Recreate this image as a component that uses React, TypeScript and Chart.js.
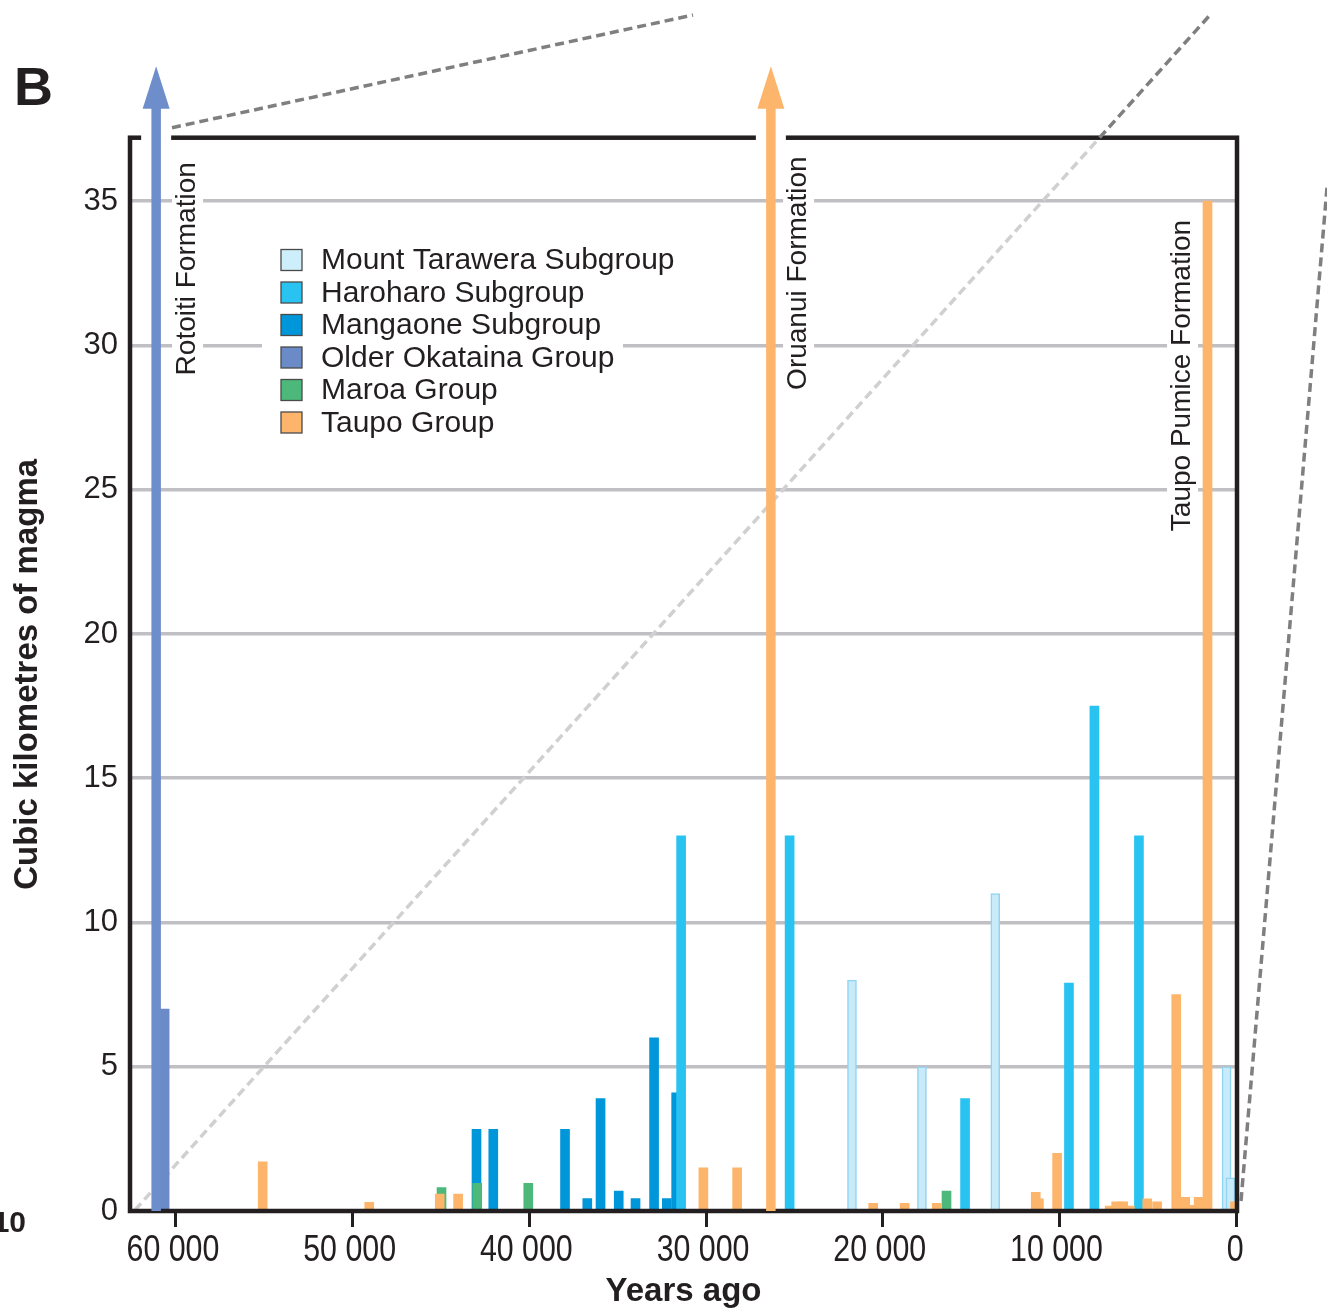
import React, { useEffect, useRef } from "react";
import { Chart, registerables } from "chart.js";

Chart.register(...registerables);

const FONT = "'Liberation Sans', Arial, Helvetica, sans-serif";
const INK = "#231f20";

// ---- axis ticks ----
const xTickValues = [60000, 50000, 40000, 30000, 20000, 10000, 0];
const yTickValues = [0, 5, 10, 15, 20, 25, 30, 35];

// ---- series (years ago, cubic km) ----
const taraweraYears = [21740, 17780, 13630, 540, 320];
const taraweraVolumes = [8.0, 5.0, 11.0, 5.0, 1.15];

const haroharoYears = [31410, 25270, 15340, 9460, 8020, 5500];
const haroharoVolumes = [13, 13, 3.9, 7.9, 17.5, 13];

const mangaoneYears = [42990, 42040, 37980, 36720, 35970, 34940, 33990, 32940, 32220, 31690];
const mangaoneVolumes = [2.83, 2.83, 2.83, 0.43, 3.9, 0.69, 0.43, 6.0, 0.43, 4.1];

const olderOkatainaYears = [60640];
const olderOkatainaVolumes = [7.0];

const maroaYears = [44970, 42950, 40060, 16390];
const maroaVolumes = [0.81, 0.96, 0.96, 0.69];

const taupoYears = [
  55090, 49060, 45070, 44030, 30150, 28240, 20540, 18760, 16940, 11160, 11340, 10130,
  7155, 6787, 6391, 6024, 5030, 4470, 3390, 2545, 2880, 2120, 1620, 60,
];
const taupoVolumes = [
  1.7, 0.3, 0.59, 0.59, 1.5, 1.5, 0.27, 0.27, 0.27, 0.42, 0.65, 2.0,
  0.17, 0.32, 0.32, 0.17, 0.42, 0.32, 7.5, 0.2, 0.47, 0.47, 35, 0.32,
];

// ---- off-scale eruptions drawn as arrows ----
const arrowYears = [61120, 26330];
const arrowGroups = ["Older Okataina Group", "Taupo Group"];

// ---- vertical formation labels ----
const formationLabels = ["Rotoiti Formation", "Oruanui Formation", "Taupo Pumice Formation"];
const formationLabelYears = [59370, 24790, 3060];
const formationLabelTops = [36.35, 36.55, 34.35];

const legendOrder = [
  "Mount Tarawera Subgroup",
  "Haroharo Subgroup",
  "Mangaone Subgroup",
  "Older Okataina Group",
  "Maroa Group",
  "Taupo Group",
];

const styles: Record<string, { fill: string; border: string; bw: number; order: number }> = {
  "Mount Tarawera Subgroup": { fill: "#c9eaf9", border: "#8fd4f2", bw: 1.5, order: 3 },
  "Haroharo Subgroup": { fill: "#29c3f2", border: "#29c3f2", bw: 0, order: 2 },
  "Mangaone Subgroup": { fill: "#0096da", border: "#0096da", bw: 0, order: 4 },
  "Older Okataina Group": { fill: "#6a8bc8", border: "#6a8bc8", bw: 0, order: 5 },
  "Maroa Group": { fill: "#4cb97b", border: "#4cb97b", bw: 0, order: 1 },
  "Taupo Group": { fill: "#fdb56b", border: "#fdb56b", bw: 0, order: 0 },
};

const seriesData: Record<string, [number[], number[]]> = {
  "Mount Tarawera Subgroup": [taraweraYears, taraweraVolumes],
  "Haroharo Subgroup": [haroharoYears, haroharoVolumes],
  "Mangaone Subgroup": [mangaoneYears, mangaoneVolumes],
  "Older Okataina Group": [olderOkatainaYears, olderOkatainaVolumes],
  "Maroa Group": [maroaYears, maroaVolumes],
  "Taupo Group": [taupoYears, taupoVolumes],
};

function fmt(v: number) {
  return String(v).replace(/\B(?=(\d{3})+(?!\d))/g, " ");
}

function dashedLine(ctx: CanvasRenderingContext2D, x1: number, y1: number, x2: number, y2: number, color: string) {
  ctx.save();
  ctx.strokeStyle = color;
  ctx.lineWidth = 3.5;
  ctx.setLineDash([9, 5]);
  ctx.beginPath();
  ctx.moveTo(x1, y1);
  ctx.lineTo(x2, y2);
  ctx.stroke();
  ctx.restore();
}

const decorPlugin = {
  id: "decor",
  beforeDatasetsDraw(chart: any) {
    const { ctx, chartArea: ca, scales } = chart;
    const x = scales.x;
    const y = scales.y;
    // light dashed zoom line inside plot
    const bx1 = ca.left + 5, by1 = ca.bottom - 1, bx2 = ca.right - 27, by2 = 15;
    const t = (by1 - ca.top) / (by1 - by2);
    dashedLine(ctx, bx1, by1, bx1 + t * (bx2 - bx1), ca.top, "#d0d0d0");

    ctx.save();
    ctx.fillStyle = "#ffffff";
    // white boxes behind formation labels
    ctx.font = `28px ${FONT}`;
    formationLabels.forEach((lbl, i) => {
      const px = x.getPixelForValue(formationLabelYears[i]);
      const py = y.getPixelForValue(formationLabelTops[i]);
      const w = ctx.measureText(lbl).width;
      ctx.fillRect(px - 15, py - 6, 31, w + 12);
    });
    // white box behind legend
    ctx.fillRect(ca.left + 132, ca.top + 104, 361, 200);
    ctx.restore();
  },
  afterDatasetsDraw(chart: any) {
    const { ctx, chartArea: ca, scales } = chart;
    const x = scales.x;
    const y = scales.y;

    // frame
    ctx.save();
    ctx.strokeStyle = INK;
    ctx.lineWidth = 4.5;
    ctx.strokeRect(ca.left, ca.top, ca.right - ca.left, ca.bottom - ca.top);
    // gaps for the arrows
    ctx.fillStyle = "#ffffff";
    arrowYears.forEach((yr) => {
      const px = x.getPixelForValue(yr);
      ctx.fillRect(px - 15, ca.top - 3.5, 30, 7);
    });
    ctx.restore();

    // arrows
    arrowYears.forEach((yr, i) => {
      const px = x.getPixelForValue(yr);
      const base = ca.top - 30;
      const tip = ca.top - 71.5;
      ctx.save();
      ctx.fillStyle = arrowGroups[i] === "Older Okataina Group" ? "#6e8ecb" : styles[arrowGroups[i]].fill;
      ctx.fillRect(px - 4.75, base, 9.5, y.getPixelForValue(0) - base);
      ctx.beginPath();
      ctx.moveTo(px - 13.5, base + 1);
      ctx.lineTo(px + 13.5, base + 1);
      ctx.lineTo(px, tip);
      ctx.closePath();
      ctx.fill();
      ctx.restore();
    });

    // formation labels
    ctx.save();
    ctx.fillStyle = INK;
    ctx.font = `28px ${FONT}`;
    ctx.textAlign = "right";
    ctx.textBaseline = "middle";
    formationLabels.forEach((lbl, i) => {
      const px = x.getPixelForValue(formationLabelYears[i]);
      const py = y.getPixelForValue(formationLabelTops[i]);
      ctx.save();
      ctx.translate(px, py);
      ctx.rotate(-Math.PI / 2);
      ctx.fillText(lbl, 0, 0);
      ctx.restore();
    });
    ctx.restore();

    // legend
    ctx.save();
    const lx = ca.left + 151;
    const ty = ca.top + 122.3;
    ctx.font = `30px ${FONT}`;
    ctx.textBaseline = "middle";
    ctx.textAlign = "left";
    legendOrder.forEach((name, i) => {
      const cy = ty + i * 32.5;
      ctx.fillStyle = name === "Mount Tarawera Subgroup" ? "#cdeefb" : styles[name].fill;
      ctx.fillRect(lx, cy - 10.5, 21, 21);
      ctx.strokeStyle = "#4a4a4a";
      ctx.lineWidth = 1.3;
      ctx.strokeRect(lx, cy - 10.5, 21, 21);
      ctx.fillStyle = INK;
      ctx.fillText(name, lx + 40, cy + 1);
    });
    ctx.restore();
  },
  afterDraw(chart: any) {
    const { ctx, chartArea: ca, scales } = chart;
    const x = scales.x;

    // condensed x tick labels
    ctx.save();
    ctx.fillStyle = INK;
    ctx.font = `37px ${FONT}`;
    ctx.textAlign = "center";
    ctx.textBaseline = "middle";
    xTickValues.forEach((v) => {
      const px = x.getPixelForValue(v);
      ctx.save();
      ctx.translate(px - (v === 0 ? 1 : 3), ca.bottom + 40);
      ctx.scale(0.82, 1);
      ctx.fillText(fmt(v), 0, 0);
      ctx.restore();
    });
    ctx.restore();

    // dark dashed zoom lines
    dashedLine(ctx, ca.left + 42, ca.top - 10, ca.left + 563, 15, "#7f7f7f");
    const bx1 = ca.left + 5, by1 = ca.bottom - 1, bx2 = ca.right - 27, by2 = 15;
    const t = (by1 - ca.top) / (by1 - by2);
    dashedLine(ctx, bx1 + t * (bx2 - bx1), ca.top, bx2, by2, "#7f7f7f");
    dashedLine(ctx, chart.width, ca.top + 50, ca.right + 4, ca.bottom - 10, "#7f7f7f");

    // panel letter and cut-off label from neighbouring panel
    ctx.save();
    ctx.fillStyle = INK;
    ctx.font = `bold 54px ${FONT}`;
    ctx.textAlign = "left";
    ctx.textBaseline = "alphabetic";
    ctx.fillText("B", 14, 105);
    ctx.font = `bold 30px ${FONT}`;
    ctx.textAlign = "right";
    ctx.fillText("10", ca.left - 104, ca.bottom + 21);
    ctx.restore();
  },
};

export default function App() {
  const ref = useRef<HTMLCanvasElement | null>(null);
  useEffect(() => {
    document.body.style.margin = "0";
    const canvas = ref.current;
    if (!canvas) return;
    const datasets = legendOrder.map((name) => {
      const [yrs, vols] = seriesData[name];
      const s = styles[name];
      return {
        label: name,
        data: yrs.map((yr, i) => ({ x: yr, y: vols[i] })),
        backgroundColor: s.fill,
        borderColor: s.border,
        borderWidth: s.bw,
        order: s.order,
      };
    });
    const chart = new Chart(canvas, {
      type: "bar",
      data: { datasets: datasets as any },
      options: {
        responsive: false,
        animation: false,
        devicePixelRatio: 1,
        layout: { padding: { left: 0, top: 137.7, right: 90, bottom: 0 } },
        plugins: { legend: { display: false }, tooltip: { enabled: false } },
        datasets: { bar: { grouped: false, barThickness: 9 } as any },
        scales: {
          x: {
            type: "linear",
            reverse: true,
            min: -50,
            max: 62600,
            offset: false,
            border: { display: false },
            grid: {
              display: true,
              drawOnChartArea: false,
              drawTicks: true,
              tickLength: 16,
              color: INK,
              lineWidth: 3,
              offset: false,
            },
            afterBuildTicks: (s: any) => {
              s.ticks = xTickValues.map((v) => ({ value: v }));
            },
            afterFit: (s: any) => {
              s.height = 99;
            },
            ticks: {
              display: false,
              callback: (v: any) => fmt(Number(v)),
              maxRotation: 0,
              autoSkip: false,
            },
            title: {
              display: true,
              text: "Years ago",
              font: { family: FONT, size: 33, weight: "bold" },
              color: INK,
              padding: { top: 0, bottom: -2 },
            },
          },
          y: {
            type: "linear",
            min: 0,
            max: 37.2,
            border: { display: false },
            grid: {
              drawTicks: false,
              color: (c: any) => (c.tick && c.tick.value === 0 ? "rgba(0,0,0,0)" : "#c0c0c4"),
              lineWidth: 3.5,
            },
            afterBuildTicks: (s: any) => {
              s.ticks = yTickValues.map((v) => ({ value: v }));
            },
            afterFit: (s: any) => {
              s.width = 130;
            },
            ticks: {
              font: { family: FONT, size: 31 },
              color: INK,
              padding: 12,
            },
            title: {
              display: true,
              text: "Cubic kilometres of magma",
              font: { family: FONT, size: 33, weight: "bold" },
              color: INK,
              padding: { top: 8, bottom: 0 },
            },
          },
        },
      } as any,
      plugins: [decorPlugin],
    });
    return () => chart.destroy();
  }, []);
  return (
    <div style={{ width: 1327, height: 1310, background: "#fff" }}>
      <canvas ref={ref} width={1327} height={1310} style={{ display: "block", width: 1327, height: 1310 }} />
    </div>
  );
}
